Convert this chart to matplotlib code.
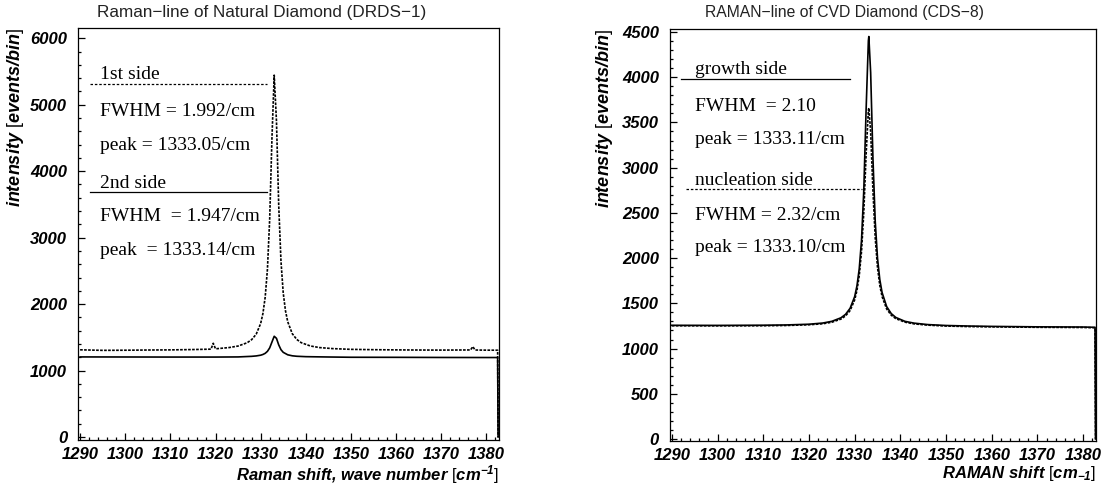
import matplotlib
matplotlib.use('Agg')
import matplotlib.pyplot as plt
from matplotlib.ticker import MultipleLocator

plt.rcParams['mathtext.fontset'] = 'custom'
plt.rcParams['mathtext.rm'] = 'Liberation Sans'
plt.rcParams['mathtext.it'] = 'Liberation Sans:italic'
plt.rcParams['mathtext.bf'] = 'Liberation Sans:bold'
plt.rcParams['mathtext.bfit'] = 'Liberation Sans:bold:italic'

# Natural diamond (DRDS-1)
nat_x = [1290, 1295, 1300, 1305, 1310, 1315, 1319, 1319.5, 1320, 1323, 1325, 1327, 1328, 1329,
         1330, 1330.5, 1331, 1331.5, 1332, 1332.5, 1333, 1333.5, 1334, 1334.5, 1335, 1335.5,
         1336, 1337, 1338, 1339, 1341, 1343, 1346, 1350, 1355, 1360, 1365, 1370, 1376.5,
         1377, 1377.5, 1380, 1382.5, 1382.6]
side1 = [1312, 1304, 1306, 1309, 1311, 1316, 1322, 1410, 1327, 1346, 1369, 1418, 1465, 1546,
         1708, 1858, 2103, 2525, 3281, 4495, 5445, 4755, 3485, 2645, 2167, 1898,
         1733, 1555, 1468, 1419, 1370, 1346, 1330, 1319, 1314, 1311, 1309, 1308, 1310,
         1360, 1309, 1307, 1306, 0]

side2_x = [1290, 1300, 1310, 1320, 1325, 1328, 1329, 1330, 1330.5, 1331, 1331.5, 1332, 1332.5,
           1333, 1333.5, 1334, 1334.5, 1335, 1336, 1337, 1338, 1340, 1345, 1350, 1360, 1370,
           1380, 1382.5, 1382.6]
side2 = [1205, 1204, 1203, 1203, 1205, 1214, 1220, 1231, 1242, 1259, 1289, 1341, 1429,
         1516, 1485, 1386, 1314, 1274, 1237, 1222, 1215, 1209, 1204, 1200, 1199, 1197,
         1196, 1196, 0]

# CVD diamond (CDS-8)
cvd_x = [1290, 1300, 1310, 1315, 1320, 1323, 1325, 1327, 1328, 1329, 1330, 1330.5, 1331, 1331.5,
         1332, 1332.5, 1333, 1333.1, 1333.5, 1334, 1334.5, 1335, 1335.5, 1336, 1337, 1338,
         1339, 1341, 1343, 1346, 1350, 1355, 1360, 1370, 1380, 1382.6, 1382.7]
growth = [1257, 1256, 1258, 1261, 1269, 1282, 1301, 1340, 1378, 1445, 1574, 1693, 1881, 2198,
          2753, 3634, 4403, 4450, 4051, 3103, 2406, 1999, 1763, 1619, 1464, 1387,
          1344, 1301, 1281, 1265, 1255, 1249, 1245, 1240, 1238, 1235, 0]
nucleation = [1252, 1251, 1252, 1255, 1263, 1274, 1291, 1326, 1361, 1420, 1538, 1642, 1805, 2073,
              2511, 3143, 3634, 3660, 3396, 2746, 2223, 1897, 1698, 1574, 1438, 1369,
              1331, 1292, 1273, 1259, 1249, 1243, 1240, 1235, 1233, 1230, 0]

nat_labels = ['1st side', 'FWHM = 1.992/cm', 'peak = 1333.05/cm',
              '2nd side', 'FWHM  = 1.947/cm', 'peak  = 1333.14/cm']
nat_label_y = [5390, 4836, 4315, 3750, 3244, 2738]
nat_line_y = [5312, 3680]

cvd_labels = ['growth side', 'FWHM  = 2.10', 'peak = 1333.11/cm',
              'nucleation side', 'FWHM = 2.32/cm', 'peak = 1333.10/cm']
cvd_label_y = [4030, 3630, 3260, 2812, 2425, 2065]
cvd_line_y = [3975, 2760]

W, H = 1106, 491
fig = plt.figure(figsize=(W / 100, H / 100), dpi=100)
ax1 = fig.add_axes([78.3 / W, 1 - 440 / H, 420.7 / W, 411.7 / H])
ax2 = fig.add_axes([670 / W, 1 - 441 / H, 426 / W, 412 / H])

# fine dotted pattern, looks nearly solid on the steep peak flanks
dots = (0, (1.6, 0.8))
ax1.plot(nat_x, side1, color='black', lw=1.2, ls=dots)
ax1.plot(side2_x, side2, color='black', lw=1.2)
ax2.plot(cvd_x, nucleation, color='black', lw=1.2, ls=dots)
ax2.plot(cvd_x, growth, color='black', lw=1.2)

ax1.set_ylim(-45, 6150)
ax2.set_ylim(-22, 4533)
ax1.yaxis.set_major_locator(MultipleLocator(1000))
ax1.yaxis.set_minor_locator(MultipleLocator(200))
ax2.yaxis.set_major_locator(MultipleLocator(500))
ax2.yaxis.set_minor_locator(MultipleLocator(100))

tick_font = {'family': 'Liberation Sans', 'weight': 'bold', 'style': 'italic', 'size': 12}
for ax in (ax1, ax2):
    ax.set_xlim(1289.6, 1382.8)
    ax.xaxis.set_major_locator(MultipleLocator(10))
    ax.xaxis.set_minor_locator(MultipleLocator(2))
    ax.tick_params(which='both', direction='in', top=False, right=False, width=0.9)
    ax.tick_params(which='major', length=5)
    ax.tick_params(which='minor', length=2.5)
    ax.tick_params(axis='x', pad=5)
    ax.tick_params(axis='y', pad=8)
    for lab in ax.get_xticklabels() + ax.get_yticklabels():
        lab.set_fontproperties(tick_font)
    for sp in ax.spines.values():
        sp.set_linewidth(0.9)

ax1.set_xlabel(r'$\mathbfit{Raman\ shift{,}\ wave\ number}\ [\mathbfit{cm}^{\mathbfit{-1}}]$',
               fontsize=12, loc='right', labelpad=1)
ax2.set_xlabel(r'$\mathbfit{RAMAN\ shift}\ [\mathbfit{cm}_{\mathbfit{-1}}]$',
               fontsize=12, loc='right', labelpad=1)
for ax in (ax1, ax2):
    ax.set_ylabel(r'$\mathbfit{intensity}\ [\mathbfit{events/bin}]$', fontsize=13,
                  loc='top')

ax1.yaxis.set_label_coords(-0.124, 1.0)
ax2.yaxis.set_label_coords(-0.129, 1.0)

serif = {'family': 'Liberation Serif', 'size': 14}
for lab, y in zip(nat_labels, nat_label_y):
    ax1.text(1294.4, y, lab, fontdict=serif, va='baseline')
ax1.plot([1292.2, 1331.5], [nat_line_y[0], nat_line_y[0]], color='black', lw=0.9, ls=(0, (2, 1.5)))
ax1.plot([1292.2, 1331.5], [nat_line_y[1], nat_line_y[1]], color='black', lw=0.9)

for lab, y in zip(cvd_labels, cvd_label_y):
    ax2.text(1295.0, y, lab, fontdict=serif, va='baseline')
ax2.plot([1292.0, 1329.0], [cvd_line_y[0], cvd_line_y[0]], color='black', lw=0.9)
ax2.plot([1293.1, 1331.7], [cvd_line_y[1], cvd_line_y[1]], color='black', lw=0.9, ls=(0, (2, 1.5)))

fig.text(97 / W, 1 - 12 / H, 'Raman\u2212line of Natural Diamond (DRDS\u22121)',
         family='Liberation Sans', size=12.3, color='#222222', ha='left', va='center')
fig.text(705 / W, 1 - 12 / H, 'RAMAN\u2212line of CVD Diamond (CDS\u22128)',
         family='Liberation Sans', size=11.3, color='#222222', ha='left', va='center')

fig.savefig('out.png', dpi=100)
